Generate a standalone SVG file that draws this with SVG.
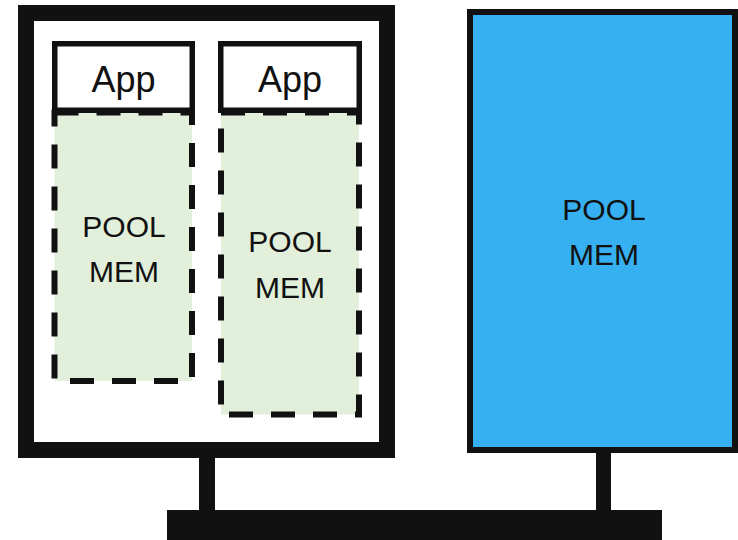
<svg xmlns="http://www.w3.org/2000/svg" width="738" height="540" viewBox="0 0 738 540">
<style>
.blk{fill:#111111}
.frame{fill:#ffffff;stroke:#111111}
.pool{fill:#E2EFDA;stroke:#111111;stroke-width:6;stroke-dasharray:24 18}
.app{fill:#ffffff;stroke:#111111;stroke-width:5.5}
text{font-family:"Liberation Sans",Arial,sans-serif;fill:#111111;text-anchor:middle}
.t36{font-size:36px}
.t30{font-size:30px}
</style>
<rect width="738" height="540" fill="#ffffff"/>
<g id="connectors">
<rect class="blk" x="199" y="456" width="16" height="56"/>
<rect class="blk" x="596" y="451" width="15" height="61"/>
<rect class="blk" x="167" y="510" width="495" height="30"/>
</g>
<g id="server">
<rect class="frame" x="26" y="13" width="361" height="437" stroke-width="16"/>
</g>
<g id="pool1">
<rect class="pool" x="54.5" y="112.5" width="137.5" height="268.5"/>
<text class="t30" x="124" y="237">POOL</text>
<text class="t30" x="124" y="282">MEM</text>
</g>
<g id="pool2">
<rect class="pool" x="221" y="112.5" width="138" height="302"/>
<text class="t30" x="290" y="252">POOL</text>
<text class="t30" x="290" y="298">MEM</text>
</g>
<g id="app1">
<rect class="app" x="54.75" y="43.75" width="137.5" height="66.5"/>
<text class="t36" x="123.5" y="92">App</text>
</g>
<g id="app2">
<rect class="app" x="220.75" y="43.75" width="138.5" height="66.5"/>
<text class="t36" x="290" y="92">App</text>
</g>
<g id="memory">
<rect x="470" y="12" width="265" height="438" fill="#36B0F0" stroke="#111111" stroke-width="6"/>
<text class="t30" x="604" y="220">POOL</text>
<text class="t30" x="604" y="265">MEM</text>
</g>
</svg>
